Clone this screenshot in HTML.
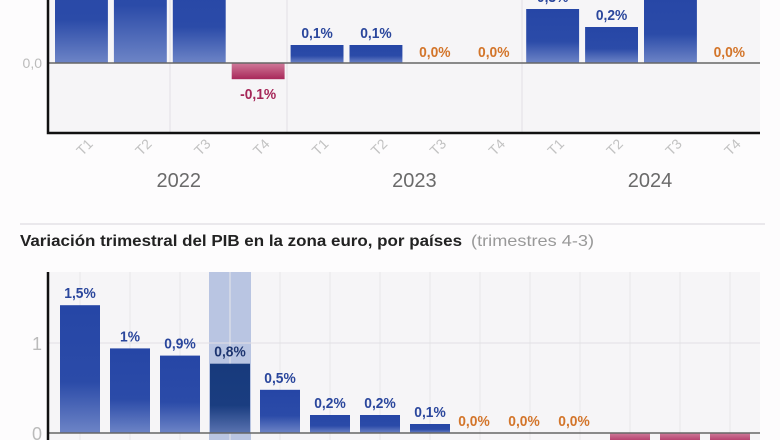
<!DOCTYPE html>
<html><head><meta charset="utf-8"><style>
html,body{margin:0;padding:0;background:#fdfcfd;}
svg{display:block;font-family:"Liberation Sans",sans-serif;}
</style></head><body>
<svg id="c" width="780" height="440" viewBox="0 0 780 440">
<defs>
<linearGradient id="gb" x1="0" y1="0" x2="0" y2="1"><stop offset="0" stop-color="#2646a6"/><stop offset="0.6" stop-color="#2b4ba8"/><stop offset="1" stop-color="#6d84c6"/></linearGradient>
<linearGradient id="gr" x1="0" y1="0" x2="0" y2="1"><stop offset="0" stop-color="#d07a9a"/><stop offset="1" stop-color="#a8285a"/></linearGradient>
<linearGradient id="gd" x1="0" y1="0" x2="0" y2="1"><stop offset="0" stop-color="#173a7c"/><stop offset="0.6" stop-color="#1a3d80"/><stop offset="1" stop-color="#5a73b0"/></linearGradient>
</defs>
<rect x="48" y="0" width="712" height="133" fill="#f6f5f7"/>
<rect x="48" y="272" width="712" height="168" fill="#f6f5f7"/>
<g id="top"></g>
<g id="bot"></g>
<line x1="20" y1="224" x2="765" y2="224" stroke="#e4e2e6" stroke-width="1.5"/>
<text x="20" y="246" font-size="16"><tspan font-weight="bold" fill="#222" textLength="442" lengthAdjust="spacingAndGlyphs">Variación trimestral del PIB en la zona euro, por países</tspan><tspan fill="#999" dx="4" textLength="128" lengthAdjust="spacingAndGlyphs"> (trimestres 4-3)</tspan></text>
</svg>
<script>
const NS='http://www.w3.org/2000/svg';
const quarters=['T1','T2','T3','T4','T1','T2','T3','T4','T1','T2','T3','T4'];
const years=['2022','2023','2024'];
const topValues=[0.6,0.8,0.5,-0.09,0.1,0.1,0,0,0.3,0.2,0.4,0];
const topLabels=['0,6%','0,8%','0,5%','-0,1%','0,1%','0,1%','0,0%','0,0%','0,3%','0,2%','0,4%','0,0%'];
const countryValues=[1.42,0.94,0.86,0.77,0.48,0.2,0.2,0.1,0,0,0,-0.12,-0.12,-0.12];
const countryLabels=['1,5%','1%','0,9%','0,8%','0,5%','0,2%','0,2%','0,1%','0,0%','0,0%','0,0%','-0,1%','-0,1%','-0,1%'];
const highlightIndex=3;
function el(t,a,p){const e=document.createElementNS(NS,t);for(const k in a)e.setAttribute(k,a[k]);p.appendChild(e);return e;}
// top chart
const T=document.getElementById('top');
const tx0=52,tbw=58.9,tz=63,tk=180;
const ty=v=>tz-v*tk;
[170,287,522].forEach(x=>{const l=el('line',{x1:x,y1:0,x2:x,y2:133,stroke:'#e2e0e4'},T);

});
topValues.forEach((v,i)=>{
 const x=tx0+i*tbw+3,w=tbw-6;
 if(v!==0){const r=el('rect',{x:x,y:Math.min(ty(v),tz),width:w,height:Math.abs(v*tk),fill:v>0?'url(#gb)':'url(#gr)'},T);
 
 }
 const cx=tx0+(i+0.5)*tbw;
 const ly=v>0?ty(v)-7:(v<0?ty(v)+20:tz-6);
 const t=el('text',{x:cx,y:ly,'font-size':15,'font-weight':'bold','text-anchor':'middle',fill:v>0?'#2a469c':(v<0?'#a52658':'#d3752a'),transform:`translate(${cx} 0) scale(0.92 1) translate(${-cx} 0)`},T);
 t.textContent=topLabels[i];
 
 
 const qx=cx+3;
 const q=el('text',{x:qx,y:152,'font-size':14,'text-anchor':'middle',fill:'#c2c2c2',transform:`rotate(-45 ${qx} 147)`},T);
 q.textContent=quarters[i];
 
 
});
years.forEach((y,j)=>{const t=el('text',{x:tx0+(j*4+2)*tbw+9,y:187,'font-size':20,'text-anchor':'middle',fill:'#6a6a6a'},T);
t.textContent=y;

});
let z=el('line',{x1:48,y1:tz,x2:760,y2:tz,stroke:'#666','stroke-width':1.5},T);


let zl=el('text',{x:42,y:tz+5,'font-size':14,'text-anchor':'end',fill:'#bbb'},T);zl.textContent='0,0';


let ax=el('path',{d:'M48 0V133H760',fill:'none',stroke:'#111','stroke-width':2.5},T);


// bottom chart
const B=document.getElementById('bot');
const bx0=55,bbw=50,bz=433,bk=90;
const by=v=>bz-v*bk;
const hl=el('rect',{x:bx0+highlightIndex*bbw+4,y:272,width:bbw-8,height:168,fill:'#b9c5e2'},B);


countryValues.forEach((v,i)=>{const l=el('line',{x1:bx0+(i+0.5)*bbw,y1:272,x2:bx0+(i+0.5)*bbw,y2:440,stroke:'#e8e6ea'},B);

});
[1].forEach(t=>{const l=el('line',{x1:48,y1:by(t),x2:760,y2:by(t),stroke:'#e2e0e4'},B);

});
[0,1].forEach(t=>{const tt=el('text',{x:42,y:by(t)+7,'font-size':18,'text-anchor':'end',fill:'#bbb'},B);tt.textContent=String(t);

});
countryValues.forEach((v,i)=>{
 const x=bx0+i*bbw+5,w=bbw-10,cx=bx0+(i+0.5)*bbw-(v===0?6:0);
 if(v!==0){const r=el('rect',{x:x,y:Math.min(by(v),bz),width:w,height:Math.abs(v*bk),fill:v<0?'url(#gr)':(i===highlightIndex?'url(#gd)':'url(#gb)')},B);
 
 }
 if(v>=0){const t=el('text',{x:cx,y:by(v)-7,'font-size':15,'font-weight':'bold','text-anchor':'middle',fill:v>0?(i===highlightIndex?'#1d3570':'#2a469c'):'#d3752a',transform:`translate(${cx} 0) scale(0.92 1) translate(${-cx} 0)`},B);
 t.textContent=countryLabels[i];
 
 }
});
let bzl=el('line',{x1:48,y1:bz,x2:760,y2:bz,stroke:'#666','stroke-width':1.5},B);


let bax=el('line',{x1:48,y1:272,x2:48,y2:440,stroke:'#111','stroke-width':2.5},B);


</script>
</body></html>
